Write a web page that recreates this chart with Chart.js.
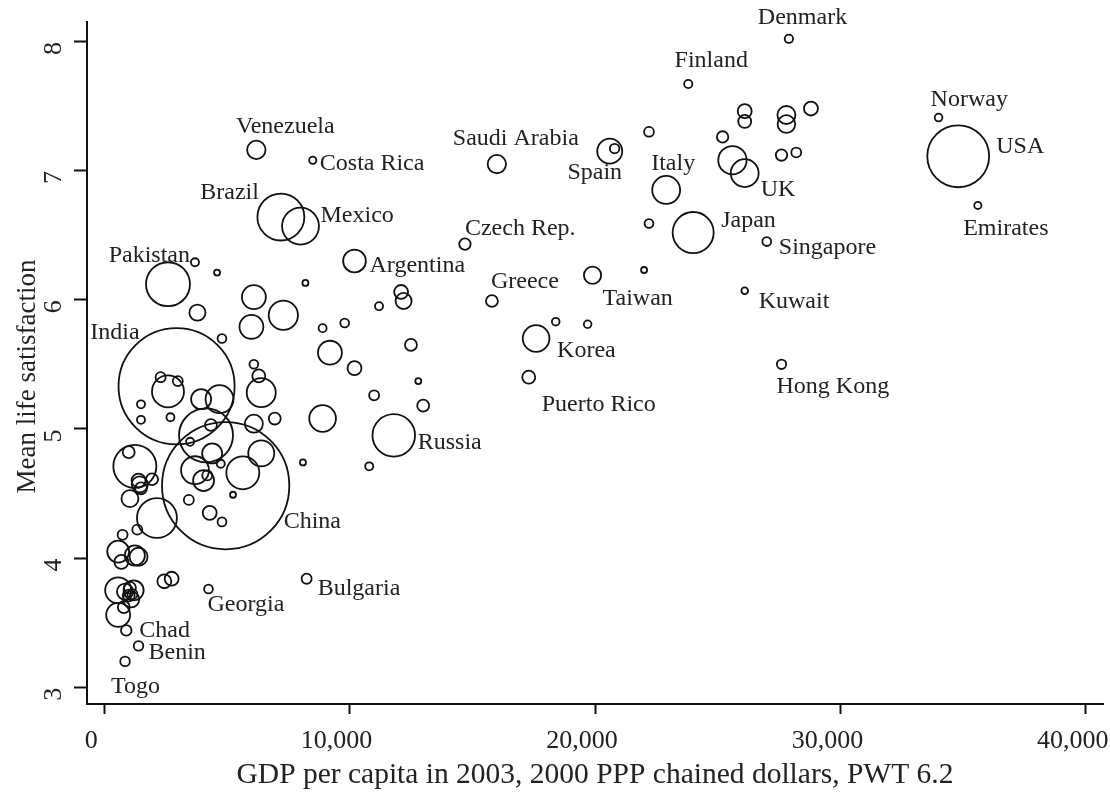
<!DOCTYPE html>
<html>
<head>
<meta charset="utf-8">
<title>Life satisfaction and GDP per capita</title>
<script src="https://cdn.jsdelivr.net/npm/chart.js@4.4.1/dist/chart.umd.min.js"></script>
<style>
  html, body { margin: 0; padding: 0; background: #fff; }
  #wrap { width: 1110px; height: 794px; position: relative; }
</style>
</head>
<body>
<div id="wrap"><canvas id="chart"></canvas></div>
<script>
"use strict";

// One entry per country; "" = bubble drawn without a name.
const COUNTRY = [
  "Denmark", "Finland", "Norway", "USA", "Emirates", "Venezuela", "Costa Rica", "Brazil", "Mexico", "Pakistan",
  "India", "Argentina", "Czech Rep.", "Saudi Arabia", "Spain", "", "Italy", "Japan", "UK", "",
  "", "", "", "", "", "", "", "", "", "Singapore",
  "", "Kuwait", "", "Taiwan", "", "Hong Kong", "Greece", "Korea", "", "Puerto Rico",
  "Russia", "", "", "", "", "", "", "", "", "",
  "", "", "", "", "", "", "", "", "", "",
  "", "", "", "", "", "", "", "", "", "",
  "", "", "", "", "", "", "", "", "", "",
  "", "", "", "", "", "", "", "", "", "",
  "China", "", "", "", "", "", "", "", "", "",
  "", "", "", "", "", "", "", "Georgia", "Bulgaria", "",
  "", "", "", "", "", "", "", "", "Chad", "Benin",
  "Togo",
];

// GDP per capita 2003 (2000 PPP chained dollars)
const GDP = [
  27900, 23800, 34000, 34800, 35600, 6200, 8500, 7200, 8000, 2600,
  2950, 10200, 14700, 16000, 20600, 20800, 22900, 24000, 26100, 25600,
  25200, 26100, 26100, 27800, 27800, 28800, 27600, 28200, 22200, 27000,
  22200, 26100, 22000, 19900, 19700, 27600, 15800, 17600, 18400, 17300,
  11800, 12100, 12200, 11200, 12500, 12800, 11000, 13000, 10800, 8100,
  8200, 8900, 9800, 9200, 10200, 8900, 6100, 7300, 6000, 3800,
  3700, 4600, 4800, 2600, 2300, 3000, 1500, 1500, 2700, 3950,
  4700, 6100, 6300, 6400, 6100, 6950, 4150, 3500, 4350, 4400,
  6400, 5650, 3700, 4050, 4750, 4200, 5250, 3450, 4300, 4800,
  4950, 1250, 1000, 1400, 1450, 1500, 1950, 1050, 2150, 1350,
  750, 570, 700, 1250, 1400, 2450, 2750, 4250, 8250, 570,
  1200, 850, 1050, 1000, 1100, 570, 800, 1150, 900, 1400,
  850,
];

// Mean life satisfaction
const SATISFACTION = [
  8.02, 7.67, 7.41, 7.11, 6.73, 7.16, 7.08, 6.64, 6.57, 6.12,
  5.33, 6.30, 6.43, 7.05, 7.15, 7.17, 6.85, 6.52, 6.98, 7.08,
  7.26, 7.46, 7.38, 7.43, 7.36, 7.48, 7.12, 7.14, 7.30, 6.45,
  6.59, 6.07, 6.23, 6.19, 5.81, 5.50, 5.99, 5.70, 5.83, 5.40,
  4.95, 6.06, 5.99, 5.95, 5.65, 5.37, 5.26, 5.18, 4.71, 4.74,
  6.13, 5.78, 5.82, 5.59, 5.47, 5.08, 6.02, 5.88, 5.79, 5.90,
  6.29, 6.21, 5.70, 5.29, 5.40, 5.37, 5.19, 5.07, 5.09, 5.23,
  5.23, 5.50, 5.41, 5.28, 5.04, 5.08, 4.95, 4.90, 5.03, 4.81,
  4.81, 4.66, 4.68, 4.60, 4.73, 4.64, 4.49, 4.45, 4.35, 4.28,
  4.56, 4.71, 4.82, 4.60, 4.57, 4.54, 4.61, 4.46, 4.31, 4.22,
  4.18, 4.05, 3.97, 4.02, 4.01, 3.82, 3.84, 3.76, 3.84, 3.75,
  3.75, 3.74, 3.77, 3.71, 3.68, 3.56, 3.62, 3.72, 3.44, 3.32,
  3.20,
];

// Population, millions (sets bubble area)
const POPULATION = [
  5.4, 5.2, 4.6, 295, 4, 26, 4, 170, 105, 149,
  1040, 40, 10, 26, 48, 7, 60, 130, 60, 62,
  10, 15, 13, 25, 24, 15, 10, 7.5, 7.5, 6,
  6, 3.5, 2.8, 23, 4.5, 6.8, 11, 55, 4.5, 13,
  140, 15, 20, 5, 11, 2.8, 7.7, 11, 5, 2.8,
  2.8, 5, 6, 44, 15, 55, 44, 66, 44, 20,
  5, 2.8, 6, 79, 7.7, 7.7, 5, 5, 5, 31,
  60, 6, 13, 65, 25, 11, 225, 5, 11, 31,
  52, 84, 60, 34, 5, 7.7, 2.8, 7.7, 15, 6,
  1250, 143, 11, 15, 20, 11, 11, 22, 123, 7.7,
  7.7, 37, 15, 31, 25, 15, 15, 6, 7.8, 52,
  31, 20, 11, 11, 20, 44, 11, 7.7, 8.5, 7,
  7,
];

const X_TICKS = [0, 10000, 20000, 30000, 40000];
const Y_TICKS = [3, 4, 5, 6, 7, 8];

const X_TITLE = "GDP per capita in 2003, 2000 PPP chained dollars, PWT 6.2";
const Y_TITLE = "Mean life satisfaction\u2003"; // trailing em space nudges it down the axis

// Layout / style
const FONT_FAMILY = "'Liberation Serif', 'Times New Roman', serif";
const INK = "#111";
const TEXT = "#222";
const BUBBLE_K = 1.8; // px radius per sqrt(million people)

// name -> [dx, dy, textAlign] relative to bubble centre
const LABEL_PLACE = {
  "Denmark": [-31, -21, "left"],
  "Finland": [23, -23, "center"],
  "Norway": [-8, -18, "left"],
  "USA": [38, -10, "left"],
  "Emirates": [28, 23, "center"],
  "Venezuela": [29, -23, "center"],
  "Costa Rica": [7, 3, "left"],
  "Brazil": [-22, -24, "right"],
  "Mexico": [20, -10, "left"],
  "Pakistan": [22, -29, "right"],
  "India": [-37, -54, "right"],
  "Argentina": [15, 5, "left"],
  "Czech Rep.": [0, -15, "left"],
  "Saudi Arabia": [19, -25, "center"],
  "Spain": [-15, 22, "center"],
  "Italy": [7, -26, "center"],
  "Japan": [28, -12, "left"],
  "UK": [16, 17, "left"],
  "Singapore": [12, 6, "left"],
  "Greece": [-1, -19, "left"],
  "Taiwan": [10, 24, "left"],
  "Kuwait": [14, 11, "left"],
  "Korea": [21, 12, "left"],
  "Hong Kong": [-5, 22, "left"],
  "Puerto Rico": [13, 27, "left"],
  "Russia": [24, 7, "left"],
  "China": [58, 36, "left"],
  "Bulgaria": [11, 10, "left"],
  "Georgia": [-1, 16, "left"],
  "Chad": [13, 0, "left"],
  "Benin": [10, 7, "left"],
  "Togo": [-14, 25, "left"],
};

const countryLabels = {
  id: "countryLabels",
  afterDatasetsDraw(chart) {
    const meta = chart.getDatasetMeta(0);
    const ctx = chart.ctx;
    ctx.save();
    ctx.font = `24px ${FONT_FAMILY}`;
    ctx.fillStyle = TEXT;
    ctx.textBaseline = "middle";
    COUNTRY.forEach((name, i) => {
      if (!name) return;
      const place = LABEL_PLACE[name] || [8, 0, "left"];
      const pt = meta.data[i];
      ctx.textAlign = place[2];
      ctx.fillText(name, pt.x + place[0], pt.y + place[1]);
    });
    ctx.restore();
  },
};

const points = GDP.map((g, i) => ({
  x: g,
  y: SATISFACTION[i],
  r: BUBBLE_K * Math.sqrt(POPULATION[i]),
}));

const tickFont = { family: FONT_FAMILY, size: 26 };

new Chart(document.getElementById("chart"), {
  type: "bubble",
  data: {
    datasets: [{
      data: points,
      backgroundColor: "rgba(0,0,0,0)",
      borderColor: INK,
      borderWidth: 1.8,
    }],
  },
  plugins: [countryLabels],
  options: {
    responsive: true,
    maintainAspectRatio: false,
    animation: false,
    events: [],
    layout: { autoPadding: false, padding: { top: 22, right: 7, bottom: 0, left: 0 } },
    plugins: {
      legend: { display: false },
      tooltip: { enabled: false },
    },
    scales: {
      x: {
        type: "linear",
        min: -700,
        max: 40700,
        afterBuildTicks: (s) => { s.ticks = X_TICKS.map((v) => ({ value: v })); },
        afterFit: (s) => { s.height = 90; s.paddingLeft = 0; s.paddingRight = 0; },
        border: { display: true, color: INK, width: 2 },
        grid: { display: true, drawOnChartArea: false, drawTicks: true, tickLength: 10, tickWidth: 2, tickColor: INK },
        ticks: {
          font: tickFont, color: TEXT, padding: 12, autoSkip: false, maxRotation: 0, minRotation: 0,
          labelOffset: -13,
          callback: (v) => Number(v).toLocaleString("en-US"),
        },
        title: {
          display: true, text: X_TITLE, color: TEXT,
          font: { family: FONT_FAMILY, size: 29.5 }, padding: { top: 0, bottom: 1 },
        },
      },
      y: {
        type: "linear",
        min: 2.87,
        max: 8.15,
        afterBuildTicks: (s) => { s.ticks = Y_TICKS.map((v) => ({ value: v })); },
        afterFit: (s) => { s.width = 87; s.paddingTop = 0; s.paddingBottom = 0; },
        border: { display: true, color: INK, width: 2 },
        grid: { display: true, drawOnChartArea: false, drawTicks: true, tickLength: 13, tickWidth: 2, tickColor: INK },
        ticks: {
          font: tickFont, color: TEXT, padding: 13, autoSkip: false,
          minRotation: 90, maxRotation: 90, crossAlign: "center", labelOffset: 7,
        },
        title: {
          display: true, text: Y_TITLE, color: TEXT,
          font: { family: FONT_FAMILY, size: 27 }, padding: { top: 12, bottom: 0 },
        },
      },
    },
  },
});
</script>
</body>
</html>
